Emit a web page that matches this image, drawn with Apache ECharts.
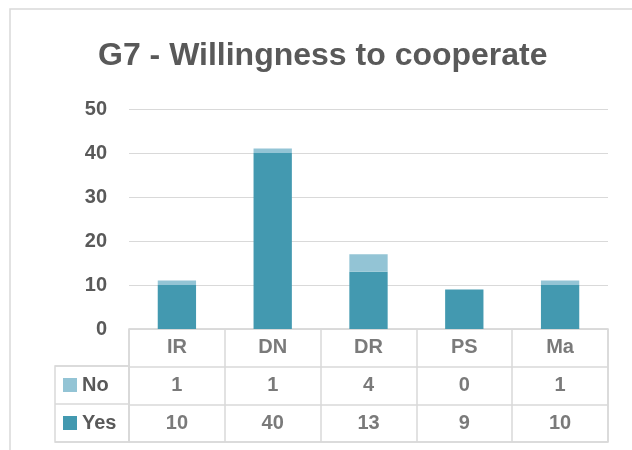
<!DOCTYPE html>
<html>
<head>
<meta charset="utf-8">
<script src="https://cdn.jsdelivr.net/npm/echarts@6/dist/echarts.min.js"></script>
<style>
  html, body { margin: 0; padding: 0; background: #fff; }
  #chart { width: 632px; height: 450px; }
</style>
</head>
<body>
<div id="chart"></div>
<script>
var categories = ['IR', 'DN', 'DR', 'PS', 'Ma'];
var yesValues = [10, 40, 13, 9, 10];
var noValues = [1, 1, 4, 0, 1];
var rowNames = ['No', 'Yes'];

var yesColor = '#4399b0';
var noColor = '#93c4d5';
var textColor = '#595959';
var lineColor = '#d9d9d9';
var font = 'Liberation Sans';

// cells of the data table: [column, row, text]
function tableCells() {
    var cells = [];
    for (var i = 0; i < categories.length; i++) {
        cells.push([i, 0, categories[i]]);
        cells.push([i, 1, String(noValues[i])]);
        cells.push([i, 2, String(yesValues[i])]);
    }
    return cells;
}

var myChart = echarts.init(document.getElementById('chart'));
myChart.setOption({
    backgroundColor: '#fff',
    animation: false,
    title: {
        text: 'G7 - Willingness to cooperate',
        left: 98,
        top: 40,
        padding: 0,
        textStyle: {
            color: textColor,
            fontFamily: font,
            fontWeight: 'bold',
            fontSize: 32
        }
    },
    graphic: [{
        type: 'rect',
        silent: true,
        shape: { x: 10, y: 9, width: 700, height: 500 },
        style: { fill: 'none', stroke: lineColor, lineWidth: 1.5 }
    }],
    grid: [
        { left: 129, right: 24, top: 109, bottom: 121 },
        { left: 129, right: 24, top: 329, bottom: 8, show: true, borderColor: lineColor, borderWidth: 1.5, backgroundColor: 'transparent' },
        { left: 55, width: 74, top: 366, bottom: 8, show: true, borderColor: lineColor, borderWidth: 1.5, backgroundColor: 'transparent' }
    ],
    xAxis: [
        {
            type: 'category',
            gridIndex: 0,
            data: categories,
            axisLine: { show: false },
            axisTick: { show: false },
            axisLabel: { show: false }
        },
        {
            type: 'category',
            gridIndex: 1,
            data: categories,
            axisLine: { show: false },
            axisTick: { show: false },
            axisLabel: { show: false },
            splitLine: { show: true, lineStyle: { color: lineColor, width: 1.5 } }
        },
        {
            type: 'value',
            gridIndex: 2,
            show: false
        }
    ],
    yAxis: [
        {
            type: 'value',
            gridIndex: 0,
            min: 0,
            max: 50,
            interval: 10,
            axisLine: { show: false },
            axisTick: { show: false },
            splitLine: { lineStyle: { color: lineColor, width: 1 } },
            axisLabel: {
                margin: 22,
                color: textColor,
                fontFamily: font,
                fontWeight: 'bold',
                fontSize: 20
            }
        },
        {
            type: 'category',
            gridIndex: 1,
            inverse: true,
            data: ['', 'No', 'Yes'],
            axisLine: { show: false },
            axisTick: { show: false },
            axisLabel: { show: false },
            splitLine: { show: true, lineStyle: { color: lineColor, width: 1.5 } }
        },
        {
            type: 'category',
            gridIndex: 2,
            inverse: true,
            data: rowNames,
            axisLine: { show: false },
            axisTick: { show: false },
            splitLine: { show: true, lineStyle: { color: lineColor, width: 1.5 } },
            axisLabel: {
                inside: true,
                margin: 8,
                formatter: function (v) {
                    return '{sq' + v + '|}{t|' + v + '}';
                },
                rich: {
                    sqNo: { width: 14, height: 14, backgroundColor: noColor },
                    sqYes: { width: 14, height: 14, backgroundColor: yesColor },
                    t: {
                        color: textColor,
                        fontFamily: font,
                        fontWeight: 'bold',
                        fontSize: 20,
                        padding: [0, 0, 0, 5]
                    }
                }
            }
        }
    ],
    series: [
        {
            name: 'Yes',
            type: 'bar',
            xAxisIndex: 0,
            yAxisIndex: 0,
            stack: 'total',
            barWidth: '40%',
            data: yesValues,
            itemStyle: { color: yesColor }
        },
        {
            name: 'No',
            type: 'bar',
            xAxisIndex: 0,
            yAxisIndex: 0,
            stack: 'total',
            barWidth: '40%',
            data: noValues,
            itemStyle: { color: noColor }
        },
        {
            name: 'table',
            type: 'scatter',
            xAxisIndex: 1,
            yAxisIndex: 1,
            symbolSize: 0,
            data: tableCells(),
            label: {
                show: true,
                position: 'inside',
                formatter: function (p) { return p.data[2]; },
                color: textColor,
                fontFamily: font,
                fontWeight: 'bold',
                fontSize: 20
            }
        }
    ]
});
</script>
</body>
</html>
